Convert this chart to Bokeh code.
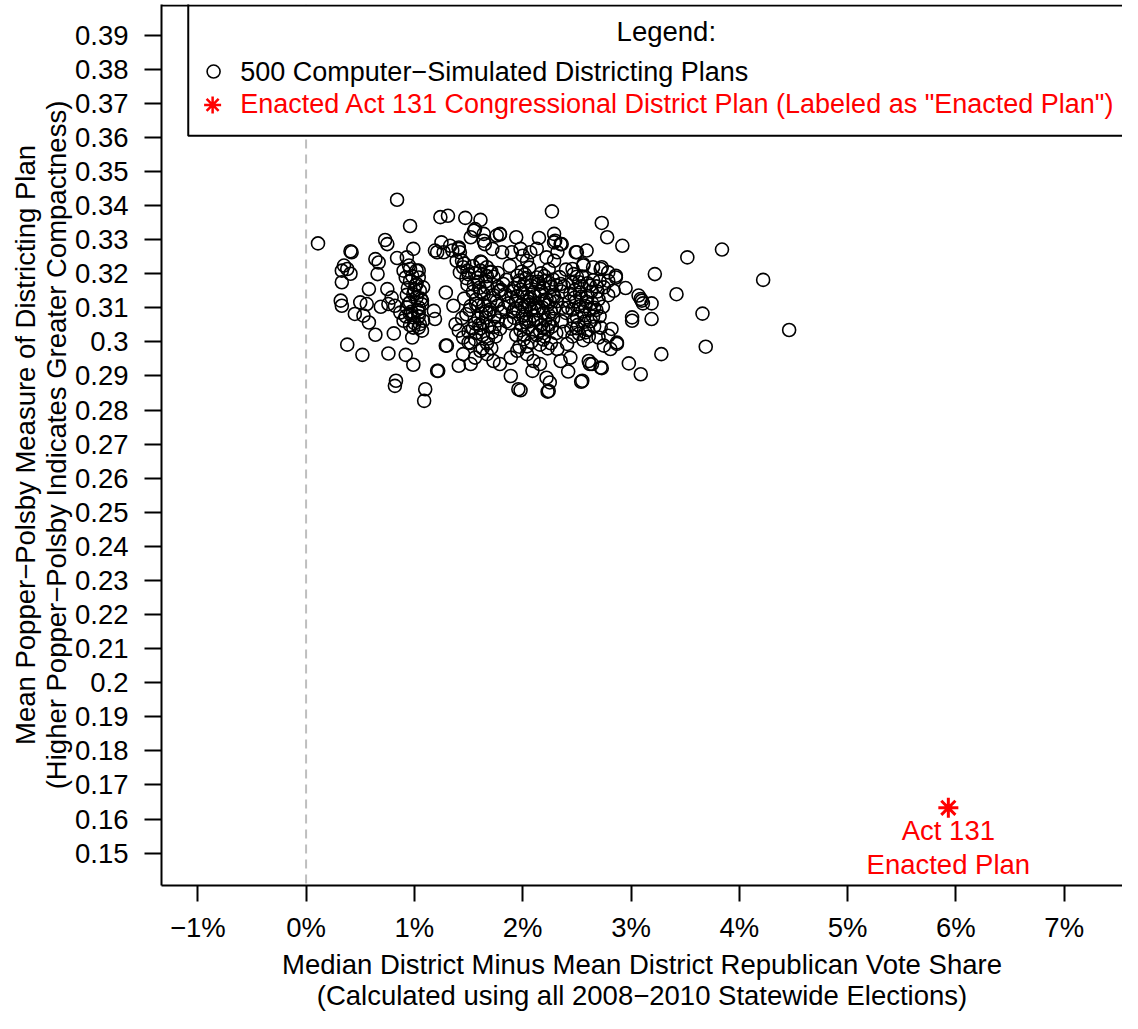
from bokeh.plotting import figure
from bokeh.models import FixedTicker, Span, BoxAnnotation, Label
from bokeh.embed import file_html
from bokeh.resources import INLINE

# ---------------- data ----------------
# outlying / sparse simulated plans
sparse_x = [
    0.84, 0.96, 0.11, 0.41, 0.42, 0.35, 0.38, 0.33, 0.41, 0.33, 0.64, 0.67, 0.73, 0.75, 0.66, 0.84,
    0.99, 0.95, 0.96, 0.90, 1.02, 0.92, 1.04, 0.58, 0.75, 0.79, 0.32, 0.33, 0.50, 0.56, 0.69, 0.76,
    0.82, 0.45, 0.53, 0.58, 0.87, 0.93, 0.96, 0.90, 0.99, 1.04, 1.05, 0.99, 1.07, 0.96, 1.02, 1.08,
    1.05, 0.99, 1.02, 1.07, 0.96, 1.04, 1.18, 1.19, 1.29, 0.64, 0.81, 0.38, 0.52, 0.76, 0.92, 0.99,
    1.21, 1.29, 1.41, 0.83, 0.82, 1.10, 1.09, 1.24, 1.31, 1.47, 1.61, 1.55, 1.64, 1.52, 1.76, 1.25,
    1.33, 1.41, 1.21, 1.27, 1.35, 1.42, 1.64, 1.72, 1.39, 1.45, 1.42, 1.62, 1.67, 1.61, 1.70,
    2.27, 2.73, 2.78, 2.92, 3.52, 3.84, 3.22, 4.22, 3.42, 3.66, 4.46, 3.19, 3.09, 3.11, 3.01, 3.01,
    3.19, 3.28, 3.69, 2.98, 3.09, 2.54, 2.23, 1.96, 1.98, 1.89, 2.42, 2.73, 2.62, 2.87, 2.81, 2.95,
    2.86, 2.79, 2.84, 2.73, 2.56, 2.59, 2.49, 2.35, 2.29, 2.29, 2.15, 1.94, 1.79, 1.81, 1.98, 2.07,
    2.13, 2.22, 2.29, 2.46, 2.47,
    0.93, 1.04, 1.19, 1.41, 1.44, 1.49, 1.56, 1.65, 1.79, 1.90, 2.00, 2.04, 2.30, 2.36, 2.32, 2.50,
    2.56, 2.65, 2.72, 2.79, 2.86, 2.75, 3.07, 3.10, 2.82, 2.72, 2.79, 2.70, 2.75, 2.87, 2.61, 2.72,
    2.64, 2.55, 2.44, 2.35, 2.32, 2.41, 2.22, 2.25, 2.24, 2.09, 2.10, 2.16, 2.04, 1.95, 1.89, 1.79,
    1.73, 1.67, 1.61, 1.56, 1.52, 1.45, 1.30, 1.22, 0.98, 1.04, 1.08, 1.36, 1.38, 1.41, 1.45, 1.50,
]
sparse_y = [
    0.3417, 0.3340, 0.3289, 0.3266, 0.3263, 0.3224, 0.3214, 0.3209, 0.3200, 0.3175, 0.3243, 0.3233, 0.3299, 0.3287, 0.3199, 0.3246,
    0.3273, 0.3224, 0.3214, 0.3209, 0.3209, 0.3189, 0.3189, 0.3155, 0.3155, 0.3130, 0.3121, 0.3106, 0.3116, 0.3111, 0.3103, 0.3111,
    0.3106, 0.3082, 0.3077, 0.3057, 0.3086, 0.3101, 0.3082, 0.3062, 0.3072, 0.3086, 0.3052, 0.3042, 0.3033, 0.3179, 0.3170, 0.3160,
    0.3150, 0.3140, 0.3130, 0.3121, 0.3116, 0.3101, 0.3091, 0.3067, 0.3145, 0.3021, 0.3025, 0.2992, 0.2962, 0.2966, 0.2962, 0.2933,
    0.2915, 0.2989, 0.2930, 0.2886, 0.2871, 0.2861, 0.2827, 0.3366, 0.3370, 0.3364, 0.3358, 0.3326, 0.3317, 0.3307, 0.3312, 0.3292,
    0.3282, 0.3277, 0.3263, 0.3263, 0.3268, 0.3263, 0.3297, 0.3273, 0.3238, 0.3219, 0.3204, 0.3233, 0.3219, 0.3209, 0.3204,
    0.3383, 0.3349, 0.3307, 0.3282, 0.3248, 0.3271, 0.3199, 0.3182, 0.3140, 0.3083, 0.3035, 0.3113, 0.3126, 0.3113, 0.3072, 0.3062,
    0.3067, 0.2964, 0.2986, 0.2937, 0.2905, 0.2883, 0.2854, 0.2861, 0.2858, 0.2900, 0.2913, 0.2923, 0.2935, 0.2994, 0.2979, 0.3158,
    0.3189, 0.3179, 0.3150, 0.3219, 0.3224, 0.3268, 0.3263, 0.3287, 0.3317, 0.3292, 0.3305, 0.3307, 0.3315, 0.3263, 0.3273, 0.3263,
    0.3273, 0.3248, 0.3238, 0.3214, 0.3199,
    0.3248, 0.3209, 0.3268, 0.3273, 0.3238, 0.3209, 0.3331, 0.3287, 0.3317, 0.3263, 0.3253, 0.3238, 0.3297, 0.3287, 0.3263, 0.3263,
    0.3228, 0.3219, 0.3214, 0.3204, 0.3194, 0.3160, 0.3136, 0.3121, 0.3038, 0.3042, 0.3018, 0.3013, 0.2989, 0.2998, 0.2944, 0.2925,
    0.2935, 0.2886, 0.2954, 0.2944, 0.2979, 0.2994, 0.2895, 0.2881, 0.2856, 0.2915, 0.2944, 0.2935, 0.2964, 0.2974, 0.2954, 0.2935,
    0.2944, 0.2964, 0.2974, 0.2954, 0.2935, 0.2964, 0.2989, 0.2915, 0.3013, 0.3042, 0.3062, 0.3106, 0.3052, 0.3033, 0.3013, 0.2998,
]
# dense core of the simulated cloud
core_x = [
    1.46, 1.54, 1.61, 1.71, 1.77, 1.48, 1.59, 1.66, 1.77, 1.54, 1.61, 1.73, 1.80, 1.46, 1.57, 1.64,
    1.76, 1.51, 1.62, 1.69, 1.80, 1.44, 1.56, 1.63, 1.74, 1.50, 1.57, 1.68, 1.75, 1.52, 1.63, 1.71,
    1.50, 1.56, 1.67, 1.73, 1.49, 1.60, 1.67, 1.78, 1.52, 1.59, 1.70, 1.77, 1.48, 1.59, 1.66, 1.77,
    1.54, 1.61, 1.72, 1.79, 1.56, 1.67,
    1.88, 1.99, 2.06, 2.17, 2.24, 2.34, 1.85, 1.96, 2.03, 2.14, 2.21, 2.31, 1.91, 1.98, 2.10, 2.17,
    2.28, 2.36, 1.87, 1.94, 2.05, 2.12, 2.23, 2.31, 1.91, 2.00, 2.08, 2.19, 2.26, 1.88, 1.99, 2.06,
    2.17, 2.24, 1.94, 2.01, 2.13, 2.20, 2.31, 1.97, 2.04, 2.16, 2.23,
    1.95, 2.02, 2.13, 2.20, 2.28, 1.92, 2.01, 2.08, 2.19, 2.26, 1.95, 2.04, 2.11, 2.22, 2.29, 1.93,
    2.02, 2.11, 2.18, 2.29, 1.92, 2.03, 2.10, 2.21, 2.28, 1.98, 2.05, 2.16, 2.23, 2.01, 2.08, 2.19,
    2.26,
    2.40, 2.50, 2.55, 2.65, 2.71, 2.38, 2.48, 2.54, 2.63, 2.69, 2.79, 2.43, 2.49, 2.59, 2.64, 2.74,
    2.40, 2.50, 2.55, 2.65, 2.71, 2.45, 2.51, 2.60, 2.66, 2.46, 2.56, 2.61,
    2.46, 2.52, 2.62, 2.68, 2.44, 2.54, 2.60, 2.70, 2.46, 2.52, 2.62, 2.68, 2.47, 2.57, 2.63, 2.52,
    2.58,
    0.94, 1.00, 1.06, 0.95, 1.03, 0.92, 1.00, 0.98, 1.01, 0.93, 1.07, 0.97, 1.04, 0.96,
    1.97, 2.08, 2.15, 2.25, 1.90, 2.00, 2.07, 2.16, 2.25, 1.96, 2.06, 2.14, 2.24, 2.03, 2.12, 2.19,
    2.09, 2.27, 1.99, 2.20,
    1.58, 1.64, 1.70, 1.57, 1.66, 1.74, 1.60, 1.69, 1.63, 1.55,
    2.53, 2.58, 2.48, 2.57, 2.66, 2.42, 2.50, 2.60,
    1.84, 1.83, 1.85, 1.82, 2.37, 2.36, 2.35, 2.38,
]
core_y = [
    0.3230, 0.3222, 0.3236, 0.3206, 0.3202, 0.3187, 0.3176, 0.3178, 0.3162, 0.3147, 0.3148, 0.3137, 0.3153, 0.3127, 0.3124, 0.3108,
    0.3119, 0.3094, 0.3083, 0.3085, 0.3088, 0.3070, 0.3054, 0.3055, 0.3044, 0.3030, 0.3026, 0.3010, 0.3016, 0.2997, 0.2981, 0.2982,
    0.3198, 0.3202, 0.3193, 0.3191, 0.3168, 0.3159, 0.3161, 0.3149, 0.3105, 0.3106, 0.3095, 0.3107, 0.3081, 0.3069, 0.3071, 0.3063,
    0.3040, 0.3040, 0.3028, 0.3038, 0.3008, 0.2996,
    0.3223, 0.3206, 0.3218, 0.3201, 0.3213, 0.3190, 0.3182, 0.3171, 0.3187, 0.3176, 0.3179, 0.3166, 0.3148, 0.3153, 0.3146, 0.3149,
    0.3137, 0.3148, 0.3113, 0.3119, 0.3118, 0.3113, 0.3108, 0.3119, 0.3089, 0.3079, 0.3094, 0.3085, 0.3089, 0.3055, 0.3049, 0.3060,
    0.3049, 0.3050, 0.3020, 0.3021, 0.3020, 0.3016, 0.3026, 0.2986, 0.2987, 0.2992, 0.2981,
    0.3194, 0.3198, 0.3189, 0.3193, 0.3183, 0.3159, 0.3168, 0.3165, 0.3160, 0.3161, 0.3134, 0.3132, 0.3134, 0.3125, 0.3133, 0.3098,
    0.3102, 0.3101, 0.3101, 0.3098, 0.3071, 0.3068, 0.3077, 0.3064, 0.3068, 0.3034, 0.3042, 0.3033, 0.3036, 0.3008, 0.3000, 0.3007,
    0.2996,
    0.3212, 0.3191, 0.3192, 0.3181, 0.3178, 0.3163, 0.3152, 0.3163, 0.3147, 0.3148, 0.3137, 0.3118, 0.3119, 0.3118, 0.3114, 0.3103,
    0.3085, 0.3074, 0.3089, 0.3074, 0.3075, 0.3039, 0.3050, 0.3035, 0.3045, 0.3016, 0.3005, 0.3016,
    0.3174, 0.3175, 0.3165, 0.3163, 0.3141, 0.3132, 0.3134, 0.3125, 0.3095, 0.3104, 0.3094, 0.3094, 0.3063, 0.3059, 0.3061, 0.3024,
    0.3028,
    0.3158, 0.3152, 0.3127, 0.3113, 0.3094, 0.3075, 0.3055, 0.3193, 0.3166, 0.3138, 0.3110, 0.3088, 0.3075, 0.3049,
    0.3180, 0.3176, 0.3170, 0.3172, 0.3130, 0.3142, 0.3125, 0.3138, 0.3120, 0.3090, 0.3108, 0.3092, 0.3079, 0.3058, 0.3064, 0.3040,
    0.3030, 0.3045, 0.3110, 0.3119,
    0.3188, 0.3140, 0.3120, 0.3112, 0.3090, 0.3075, 0.3050, 0.3045, 0.3020, 0.3168,
    0.3145, 0.3105, 0.3130, 0.3078, 0.3100, 0.3100, 0.3040, 0.3172,
    0.3140, 0.3100, 0.3060, 0.3170, 0.3100, 0.3060, 0.3170, 0.3030,
]
sim_x = sparse_x + core_x
sim_y = sparse_y + core_y

enacted_x = [5.93]
enacted_y = [0.1633]

x_ticks = [-1, 0, 1, 2, 3, 4, 5, 6, 7]
x_tick_labels = ["\u22121%", "0%", "1%", "2%", "3%", "4%", "5%", "6%", "7%"]
y_ticks = [0.15, 0.16, 0.17, 0.18, 0.19, 0.2, 0.21, 0.22, 0.23, 0.24, 0.25, 0.26, 0.27,
           0.28, 0.29, 0.3, 0.31, 0.32, 0.33, 0.34, 0.35, 0.36, 0.37, 0.38, 0.39]
y_tick_labels = ["0.15", "0.16", "0.17", "0.18", "0.19", "0.2", "0.21", "0.22", "0.23", "0.24",
                 "0.25", "0.26", "0.27", "0.28", "0.29", "0.3", "0.31", "0.32", "0.33", "0.34",
                 "0.35", "0.36", "0.37", "0.38", "0.39"]

sim_label = "500 Computer\u2212Simulated Districting Plans"
enacted_label = 'Enacted Act 131 Congressional District Plan (Labeled as "Enacted Plan")'
x_title = "Median District Minus Mean District Republican Vote Share\n(Calculated using all 2008\u22122010 Statewide Elections)"
y_title = "Mean Popper\u2212Polsby Measure of Districting Plan\n(Higher Popper\u2212Polsby Indicates Greater Compactness)"

# ---------------- figure ----------------
FONT = "Liberation Sans"
FS = "27.5px"
LFS = "27px"
X0, X1 = -1.335, 7.538
Y0, Y1 = 0.1405, 0.399

p = figure(width=1122, height=1013, x_range=(X0, X1), y_range=(Y0, Y1),
           output_backend="svg", toolbar_location=None,
           min_border_left=161, min_border_right=0, min_border_top=4, min_border_bottom=0)
p.outline_line_color = None
p.xgrid.visible = False
p.ygrid.visible = False
p.background_fill_color = "white"
p.border_fill_color = "white"

for ax in (p.xaxis[0], p.yaxis[0]):
    ax.axis_line_width = 2
    ax.axis_line_color = "black"
    ax.major_tick_line_width = 2
    ax.major_tick_line_color = "black"
    ax.major_tick_in = 0
    ax.minor_tick_line_color = None
    ax.major_label_text_font = FONT
    ax.major_label_text_font_size = FS
    ax.major_label_text_color = "black"
    ax.axis_label_text_font = FONT
    ax.axis_label_text_font_size = FS
    ax.axis_label_text_font_style = "normal"
    ax.axis_label_text_color = "black"
    ax.axis_label_text_line_height = 1.0

p.xaxis.major_tick_out = 16
p.xaxis.major_label_standoff = 10
p.xaxis.axis_label_standoff = 3
p.yaxis.major_tick_out = 17
p.yaxis.major_label_standoff = 16
p.yaxis.axis_label_standoff = 0

p.xaxis.ticker = FixedTicker(ticks=x_ticks)
p.xaxis.major_label_overrides = dict(zip(x_ticks, x_tick_labels))
p.xaxis.axis_label = x_title
p.yaxis.ticker = FixedTicker(ticks=y_ticks)
p.yaxis.major_label_overrides = dict(zip(y_ticks, y_tick_labels))
p.yaxis.axis_label = y_title

# dashed reference line at 0
p.add_layout(Span(location=0, dimension="height", line_color="#BEBEBE",
                  line_dash="9 6", line_width=2, level="underlay"))

# simulated plans
p.scatter(sim_x, sim_y, marker="circle", size=13, fill_color=None,
          line_color="black", line_width=1.6)

# enacted plan
p.scatter(enacted_x, enacted_y, marker="asterisk", size=20, line_color="red", line_width=3)
p.add_layout(Label(x=enacted_x[0], y=0.15666, text="Act 131", text_align="center",
                   text_baseline="alphabetic", text_font=FONT, text_font_size=FS,
                   text_color="red"))
p.add_layout(Label(x=enacted_x[0], y=0.14666, text="Enacted Plan", text_align="center",
                   text_baseline="alphabetic", text_font=FONT, text_font_size=FS,
                   text_color="red"))

# legend box
p.add_layout(BoxAnnotation(left=-1.088, right=X1 + 5, bottom=0.36052, top=Y1 + 0.05,
                           fill_color="white", fill_alpha=1.0,
                           line_color="black", line_alpha=1.0, line_width=2))
# top frame line
p.add_layout(Span(location=Y1 - (Y1 - Y0) / 880.0, dimension="width",
                  line_color="black", line_width=2))

p.add_layout(Label(x=3.326, y=0.39120, text="Legend:", text_align="center",
                   text_baseline="alphabetic", text_font=FONT, text_font_size=FS,
                   text_color="black"))
p.add_layout(Label(x=-0.6076, y=0.37931, text=sim_label, text_align="left",
                   text_baseline="alphabetic", text_font=FONT, text_font_size=LFS,
                   text_color="black"))
p.add_layout(Label(x=-0.6076, y=0.36971, text=enacted_label, text_align="left",
                   text_baseline="alphabetic", text_font=FONT, text_font_size=LFS,
                   text_color="red"))
lc = p.scatter([-0.854], [0.37932], marker="circle", size=13, fill_color=None,
               line_color="black", line_width=1.6)
lc.level = "overlay"
ls = p.scatter([-0.863], [0.36954], marker="asterisk", size=17, line_color="red", line_width=2.5)
ls.level = "overlay"

open("out.html", "w").write(file_html(p, INLINE))
